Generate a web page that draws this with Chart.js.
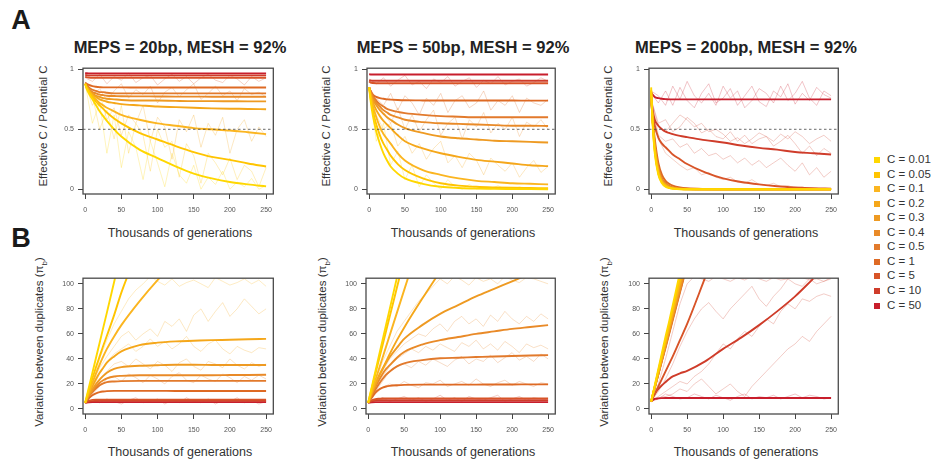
<!DOCTYPE html>
<html>
<head>
<meta charset="utf-8">
<script src="https://cdn.jsdelivr.net/npm/chart.js@4.4.1/dist/chart.umd.min.js"></script>
<style>
  body { margin: 0; background: #fff; font-family: "Liberation Sans", Arial, sans-serif; }
  #wrap { position: relative; width: 933px; height: 463px; overflow: hidden; background: #fff; }
  canvas { position: absolute; }
  .txt { position: absolute; white-space: nowrap; color: #222; transform: translate(-50%, -50%); }
  .ytitle { transform: translate(-50%, -50%) rotate(-90deg); font-size: 11.5px; color: #333; }
  .xtitle { font-size: 12.5px; color: #333; }
  .ptitle { font-size: 16.5px; font-weight: bold; color: #222; }
  .letter { font-size: 27px; font-weight: bold; color: #1a1a1a; }
  .leg { position: absolute; font-size: 11.5px; color: #333; white-space: nowrap; }
  .sq { position: absolute; width: 6px; height: 6px; }
</style>
</head>
<body>
<div id="wrap">
  <canvas id="a1" width="220" height="160" style="left:59px;top:60px"></canvas>
  <canvas id="a2" width="218" height="160" style="left:343px;top:60px"></canvas>
  <canvas id="a3" width="219" height="160" style="left:625px;top:60px"></canvas>
  <canvas id="b1" width="220" height="170" style="left:59px;top:270px"></canvas>
  <canvas id="b2" width="219" height="170" style="left:342px;top:270px"></canvas>
  <canvas id="b3" width="219" height="170" style="left:625px;top:270px"></canvas>
</div>
<script>
// x values (thousands of generations) for the mean curves and the replicate runs
var GEN = [0, 2, 5, 10, 15, 20, 25, 30, 40, 50, 75, 100, 125, 150, 175, 200, 225, 250];
var GEN_REP = [0, 10, 20, 30, 40, 50, 60, 70, 80, 90, 100, 110, 120, 130, 140, 150, 160, 170, 180, 190, 200, 210, 220, 230, 240, 250];
var X_TICKS = [0, 50, 100, 150, 200, 250];
var Y_TICKS_A = [0, 0.5, 1];
var Y_TICKS_B = [0, 20, 40, 60, 80, 100];

var C_LABELS = ['C = 0.01', 'C = 0.05', 'C = 0.1', 'C = 0.2', 'C = 0.3', 'C = 0.4', 'C = 0.5', 'C = 1', 'C = 5', 'C = 10', 'C = 50'];
var C_COLORS = ['#FFD700', '#FFC400', '#FBB520', '#F5A71A', '#EE9A22', '#E98A28', '#E27A2C', '#DE6A24', '#D85428', '#CF3C2A', '#C81E2C'];

var TITLES = ['MEPS = 20bp, MESH = 92%', 'MEPS = 50bp, MESH = 92%', 'MEPS = 200bp, MESH = 92%'];

// ---- A: effective C / potential C (mean curves, one row per C) ----
var effMeps20 = [
  [0.88, 0.84, 0.80, 0.75, 0.70, 0.65, 0.61, 0.57, 0.50, 0.44, 0.33, 0.26, 0.19, 0.13, 0.09, 0.06, 0.04, 0.024],
  [0.88, 0.85, 0.82, 0.77, 0.73, 0.70, 0.67, 0.64, 0.59, 0.55, 0.47, 0.415, 0.36, 0.31, 0.27, 0.245, 0.215, 0.19],
  [0.88, 0.85, 0.82, 0.78, 0.75, 0.72, 0.70, 0.68, 0.65, 0.62, 0.58, 0.55, 0.53, 0.51, 0.50, 0.49, 0.475, 0.46],
  [0.88, 0.85, 0.82, 0.79, 0.77, 0.75, 0.74, 0.73, 0.72, 0.71, 0.70, 0.69, 0.685, 0.68, 0.675, 0.672, 0.67, 0.667],
  [0.88, 0.86, 0.83, 0.80, 0.78, 0.77, 0.76, 0.755, 0.75, 0.745, 0.74, 0.74, 0.737, 0.735, 0.735, 0.734, 0.733, 0.733],
  [0.88, 0.86, 0.84, 0.81, 0.80, 0.79, 0.785, 0.78, 0.778, 0.776, 0.775, 0.774, 0.773, 0.773, 0.772, 0.772, 0.772, 0.772],
  [0.88, 0.87, 0.85, 0.83, 0.82, 0.81, 0.81, 0.805, 0.80, 0.80, 0.80, 0.80, 0.80, 0.80, 0.80, 0.80, 0.80, 0.80],
  [0.89, 0.88, 0.87, 0.86, 0.855, 0.852, 0.85, 0.85, 0.85, 0.85, 0.849, 0.849, 0.849, 0.849, 0.849, 0.849, 0.849, 0.849],
  [0.94, 0.935, 0.932, 0.93, 0.93, 0.93, 0.93, 0.93, 0.93, 0.93, 0.93, 0.93, 0.93, 0.93, 0.93, 0.93, 0.93, 0.93],
  [0.955, 0.952, 0.95, 0.95, 0.95, 0.95, 0.95, 0.95, 0.95, 0.95, 0.95, 0.95, 0.95, 0.95, 0.95, 0.95, 0.95, 0.95],
  [0.97, 0.968, 0.967, 0.967, 0.967, 0.967, 0.967, 0.967, 0.967, 0.967, 0.967, 0.967, 0.967, 0.967, 0.967, 0.967, 0.967, 0.967]
];
var effMeps50 = [
  [0.85, 0.74, 0.62, 0.48, 0.38, 0.30, 0.24, 0.19, 0.13, 0.09, 0.045, 0.02, 0.01, 0.005, 0.003, 0.002, 0.001, 0],
  [0.85, 0.76, 0.66, 0.54, 0.45, 0.38, 0.33, 0.28, 0.21, 0.16, 0.09, 0.05, 0.03, 0.02, 0.015, 0.012, 0.01, 0.008],
  [0.85, 0.78, 0.70, 0.60, 0.52, 0.46, 0.42, 0.38, 0.30, 0.24, 0.16, 0.12, 0.09, 0.07, 0.06, 0.05, 0.045, 0.04],
  [0.85, 0.79, 0.73, 0.66, 0.61, 0.57, 0.54, 0.51, 0.45, 0.40, 0.34, 0.30, 0.27, 0.245, 0.23, 0.215, 0.20, 0.193],
  [0.85, 0.80, 0.75, 0.70, 0.66, 0.63, 0.60, 0.58, 0.54, 0.51, 0.47, 0.44, 0.425, 0.415, 0.405, 0.40, 0.395, 0.39],
  [0.85, 0.81, 0.77, 0.72, 0.69, 0.66, 0.64, 0.62, 0.60, 0.58, 0.56, 0.55, 0.545, 0.54, 0.535, 0.53, 0.53, 0.528],
  [0.85, 0.82, 0.78, 0.74, 0.71, 0.69, 0.67, 0.66, 0.645, 0.635, 0.62, 0.61, 0.605, 0.60, 0.60, 0.60, 0.60, 0.60],
  [0.85, 0.82, 0.79, 0.77, 0.76, 0.755, 0.75, 0.748, 0.745, 0.743, 0.741, 0.74, 0.74, 0.74, 0.74, 0.74, 0.739, 0.739],
  [0.90, 0.89, 0.886, 0.885, 0.885, 0.885, 0.885, 0.885, 0.885, 0.885, 0.885, 0.884, 0.884, 0.884, 0.884, 0.884, 0.884, 0.884],
  [0.91, 0.907, 0.905, 0.905, 0.905, 0.905, 0.905, 0.905, 0.905, 0.905, 0.905, 0.905, 0.905, 0.905, 0.905, 0.905, 0.905, 0.905],
  [0.96, 0.958, 0.958, 0.958, 0.958, 0.958, 0.958, 0.958, 0.958, 0.958, 0.958, 0.958, 0.958, 0.958, 0.958, 0.958, 0.958, 0.958]
];
var effMeps200 = [
  [0.85, 0.55, 0.30, 0.12, 0.05, 0.02, 0.01, 0.005, 0, 0, 0, 0, 0, 0, 0, 0, 0, 0],
  [0.83, 0.56, 0.32, 0.13, 0.055, 0.025, 0.012, 0.006, 0.002, 0, 0, 0, 0, 0, 0, 0, 0, 0],
  [0.82, 0.57, 0.33, 0.14, 0.06, 0.03, 0.014, 0.007, 0.002, 0, 0, 0, 0, 0, 0, 0, 0, 0],
  [0.80, 0.58, 0.35, 0.15, 0.07, 0.035, 0.016, 0.008, 0.003, 0, 0, 0, 0, 0, 0, 0, 0, 0],
  [0.78, 0.58, 0.36, 0.16, 0.075, 0.04, 0.02, 0.01, 0.004, 0.001, 0, 0, 0, 0, 0, 0, 0, 0],
  [0.77, 0.58, 0.37, 0.17, 0.08, 0.045, 0.025, 0.012, 0.005, 0.002, 0, 0, 0, 0, 0, 0, 0, 0],
  [0.76, 0.58, 0.38, 0.18, 0.09, 0.05, 0.028, 0.015, 0.006, 0.002, 0, 0, 0, 0, 0, 0, 0, 0],
  [0.75, 0.60, 0.42, 0.22, 0.12, 0.07, 0.045, 0.03, 0.015, 0.008, 0.002, 0, 0, 0, 0, 0, 0, 0],
  [0.76, 0.64, 0.53, 0.43, 0.38, 0.35, 0.32, 0.29, 0.25, 0.21, 0.14, 0.09, 0.06, 0.04, 0.025, 0.015, 0.008, 0.005],
  [0.77, 0.66, 0.58, 0.53, 0.50, 0.48, 0.47, 0.46, 0.445, 0.435, 0.41, 0.39, 0.365, 0.345, 0.33, 0.31, 0.30, 0.29],
  [0.81, 0.79, 0.77, 0.76, 0.755, 0.752, 0.75, 0.75, 0.75, 0.75, 0.75, 0.75, 0.75, 0.75, 0.75, 0.75, 0.75, 0.75]
];

// ---- B: variation between duplicates (mean curves) ----
var divMeps20 = [
  [5, 9.8, 17, 29, 41, 53, 65, 77, 101.5, 126, null, null, null, null, null, null, null, null],
  [5, 9, 15, 24.5, 33.5, 42, 50.5, 58.5, 75, 93, 130, null, null, null, null, null, null, null],
  [5, 8, 13, 21, 28.5, 35.5, 42, 48, 58, 67, 86, 103, 118, null, null, null, null, null],
  [5, 8, 12, 18, 24, 29, 33, 37, 42, 46, 51, 53, 54, 54.5, 55, 55.3, 55.7, 56],
  [5, 7.5, 11, 15.5, 20, 23.5, 26.5, 29, 32, 33.5, 34.5, 35, 35.3, 35.3, 35.2, 35.1, 35.1, 35.2],
  [5, 7.5, 10.5, 14.5, 18, 21, 23, 24.5, 26, 26.5, 27, 27, 27, 27, 27, 27.1, 27.2, 27.3],
  [5, 7, 10, 13.5, 16.5, 19, 20.5, 21.5, 22, 22.3, 22.5, 22.5, 22.5, 22.5, 22.5, 22.5, 22.5, 22.5],
  [5, 6.5, 8.5, 11, 12.5, 13.5, 14, 14.3, 14.5, 14.5, 14.5, 14.5, 14.4, 14.4, 14.4, 14.4, 14.4, 14.4],
  [5, 5.8, 6.6, 7.3, 7.5, 7.5, 7.5, 7.5, 7.5, 7.5, 7.5, 7.5, 7.5, 7.5, 7.5, 7.5, 7.5, 7.5],
  [5, 5.5, 6, 6.3, 6.4, 6.5, 6.5, 6.5, 6.5, 6.5, 6.5, 6.5, 6.5, 6.5, 6.5, 6.5, 6.5, 6.5],
  [5, 5.2, 5.4, 5.5, 5.5, 5.5, 5.5, 5.5, 5.5, 5.5, 5.5, 5.5, 5.5, 5.5, 5.5, 5.5, 5.5, 5.5]
];
var divMeps50 = [
  [5, 10, 17.5, 30, 42.5, 55, 67.5, 80, 105, null, null, null, null, null, null, null, null, null],
  [5, 9.6, 16.5, 28, 39.5, 51, 62.5, 74, 97, 120, null, null, null, null, null, null, null, null],
  [5, 8.6, 14, 23, 32, 41, 50, 59, 77, 95, 140, null, null, null, null, null, null, null],
  [5, 8, 12.5, 19.5, 26, 32, 38, 44, 55, 65, 88, 110, null, null, null, null, null, null],
  [5, 8, 12.5, 20, 26.5, 32, 37, 41.5, 49, 56, 67, 76, 83, 90, 96, 102, 108, null],
  [5, 7.5, 11.5, 17.5, 23, 28, 32, 35, 41, 45.5, 51.5, 55, 57.5, 60, 62, 64, 65.5, 67],
  [5, 7, 10.5, 15.5, 20, 24, 27.5, 30, 34, 36.5, 39, 40.5, 41, 41.5, 42, 42.3, 42.7, 43],
  [5, 6.5, 9, 13, 15.5, 17, 18, 18.5, 19, 19.3, 19.5, 19.5, 19.5, 19.5, 19.6, 19.6, 19.7, 19.7],
  [5, 5.8, 6.8, 7.8, 8.2, 8.4, 8.5, 8.5, 8.5, 8.5, 8.5, 8.5, 8.5, 8.5, 8.5, 8.5, 8.5, 8.5],
  [5, 5.6, 6.2, 6.8, 7, 7, 7, 7, 7, 7, 7, 7, 7, 7, 7, 7, 7, 7],
  [5, 5.2, 5.4, 5.5, 5.5, 5.5, 5.5, 5.5, 5.5, 5.5, 5.5, 5.5, 5.5, 5.5, 5.5, 5.5, 5.5, 5.5]
];
var divMeps200 = [
  [6, 11, 19, 32, 45, 58, 70, 83, 109, null, null, null, null, null, null, null, null, null],
  [6, 11, 18, 30.5, 43, 55, 67.5, 80, 104, 129, null, null, null, null, null, null, null, null],
  [6, 10.8, 18, 30, 42, 54, 66, 78, 102, 126, null, null, null, null, null, null, null, null],
  [6, 10.7, 17.7, 29.3, 41, 52.7, 64.3, 76, 99.5, 123, null, null, null, null, null, null, null, null],
  [6, 10.5, 17.4, 28.8, 40, 51.6, 63, 74.4, 97, 120, null, null, null, null, null, null, null, null],
  [6, 10.4, 17, 28, 39, 50.5, 61.7, 73, 95, 117, null, null, null, null, null, null, null, null],
  [6, 10.4, 17, 28, 39, 50, 61, 72, 94, 116, null, null, null, null, null, null, null, null],
  [6, 10.3, 16.8, 27.6, 38.5, 49, 60, 71, 93, 115, null, null, null, null, null, null, null, null],
  [6, 8.5, 12, 18, 24, 30, 36, 42, 55, 68, 105, null, null, null, null, null, null, null],
  [6, 9, 12, 16, 19, 21.5, 24, 26, 28.5, 30.5, 38, 48, 57, 67, 78, 90, 104, null],
  [6, 7, 8, 8.5, 8.7, 8.8, 8.8, 8.8, 8.8, 8.8, 8.8, 8.8, 8.8, 8.8, 8.8, 8.8, 8.8, 8.8]
];

// ---- single replicate runs (faint lines) ----
var effMeps20Reps = [
  [0.88, 0.55, 0.72, 0.30, 0.62, 0.18, 0.48, 0.35, 0.08, 0.40, 0.22, 0.02, 0.30, 0.12, 0.05, 0.20, 0.00, 0.10, 0.04, 0.15, 0.00, 0.06, 0.02, 0.09, 0.00, 0.03],
  [0.88, 0.78, 0.50, 0.66, 0.42, 0.70, 0.30, 0.55, 0.45, 0.15, 0.50, 0.35, 0.40, 0.10, 0.38, 0.28, 0.05, 0.30, 0.22, 0.12, 0.26, 0.08, 0.20, 0.15, 0.02, 0.18],
  [0.88, 0.70, 0.80, 0.58, 0.68, 0.45, 0.62, 0.55, 0.70, 0.40, 0.60, 0.52, 0.25, 0.58, 0.48, 0.62, 0.35, 0.55, 0.45, 0.60, 0.30, 0.50, 0.58, 0.40, 0.52, 0.44],
  [0.85, 0.78, 0.84, 0.74, 0.82, 0.88, 0.76, 0.83, 0.79, 0.86, 0.72, 0.81, 0.85, 0.77, 0.83, 0.88, 0.75, 0.80, 0.86, 0.78, 0.82, 0.74, 0.84, 0.79, 0.81, 0.77],
  [0.93, 0.90, 0.96, 0.88, 0.94, 0.91, 0.97, 0.89, 0.93, 0.95, 0.87, 0.92, 0.96, 0.90, 0.94, 0.88, 0.93, 0.96, 0.91, 0.89, 0.95, 0.92, 0.87, 0.94, 0.90, 0.93]
];
var effMeps20RepC = [0, 1, 3, 6, 8];
var effMeps50Reps = [
  [0.85, 0.40, 0.55, 0.20, 0.32, 0.08, 0.20, 0.02, 0.12, 0.05, 0.00, 0.08, 0.02, 0.00, 0.04, 0.00, 0.01, 0.00, 0.03, 0.00, 0.00, 0.02, 0.00, 0.00, 0.01, 0.00],
  [0.85, 0.62, 0.50, 0.55, 0.36, 0.44, 0.30, 0.38, 0.25, 0.34, 0.40, 0.22, 0.28, 0.18, 0.30, 0.24, 0.12, 0.26, 0.20, 0.15, 0.22, 0.10, 0.18, 0.24, 0.14, 0.19],
  [0.85, 0.72, 0.64, 0.55, 0.68, 0.50, 0.62, 0.48, 0.58, 0.66, 0.45, 0.55, 0.60, 0.42, 0.58, 0.52, 0.64, 0.47, 0.55, 0.50, 0.60, 0.44, 0.56, 0.52, 0.58, 0.50],
  [0.85, 0.76, 0.70, 0.80, 0.66, 0.78, 0.72, 0.62, 0.76, 0.70, 0.80, 0.64, 0.74, 0.78, 0.68, 0.72, 0.82, 0.66, 0.74, 0.70, 0.78, 0.64, 0.76, 0.72, 0.70, 0.75],
  [0.92, 0.88, 0.93, 0.86, 0.91, 0.95, 0.87, 0.90, 0.84, 0.92, 0.89, 0.94, 0.86, 0.90, 0.93, 0.85, 0.91, 0.88, 0.94, 0.87, 0.90, 0.92, 0.86, 0.89, 0.93, 0.90]
];
var effMeps50RepC = [0, 3, 5, 7, 9];
var effMeps200Reps = [
  [0.80, 0.72, 0.82, 0.70, 0.85, 0.74, 0.68, 0.80, 0.88, 0.72, 0.76, 0.84, 0.70, 0.78, 0.86, 0.73, 0.69, 0.82, 0.77, 0.88, 0.71, 0.80, 0.74, 0.85, 0.79, 0.76],
  [0.82, 0.78, 0.70, 0.86, 0.75, 0.90, 0.78, 0.72, 0.80, 0.70, 0.86, 0.76, 0.82, 0.68, 0.74, 0.84, 0.80, 0.72, 0.86, 0.74, 0.80, 0.90, 0.76, 0.70, 0.82, 0.78],
  [0.75, 0.55, 0.58, 0.48, 0.52, 0.60, 0.55, 0.47, 0.50, 0.44, 0.42, 0.48, 0.40, 0.45, 0.38, 0.42, 0.44, 0.36, 0.40, 0.45, 0.38, 0.30, 0.36, 0.28, 0.34, 0.30],
  [0.75, 0.45, 0.40, 0.42, 0.35, 0.38, 0.30, 0.34, 0.28, 0.30, 0.25, 0.28, 0.22, 0.26, 0.20, 0.24, 0.18, 0.22, 0.26, 0.20, 0.15, 0.22, 0.12, 0.18, 0.10, 0.15],
  [0.75, 0.52, 0.48, 0.55, 0.62, 0.58, 0.52, 0.55, 0.48, 0.50, 0.46, 0.40, 0.43, 0.38, 0.42, 0.47, 0.44, 0.40, 0.46, 0.42, 0.48, 0.44, 0.38, 0.42, 0.45, 0.40],
  [0.70, 0.42, 0.30, 0.25, 0.20, 0.16, 0.18, 0.12, 0.14, 0.10, 0.08, 0.10, 0.06, 0.05, 0.08, 0.04, 0.03, 0.05, 0.02, 0.03, 0.01, 0.02, 0.00, 0.01, 0.00, 0.00]
];
var effMeps200RepC = [10, 10, 9, 9, 9, 8];

var divMeps20Reps = [
  [5, 20, 40, 55, 68, 78, 88, 95, 100, 106, 102, 99, 104, 98, 101, 103, 100, 97, 105, 102, 99, 101, 104, 100, 103, 98],
  [5, 20, 33, 42, 50, 58, 62, 55, 60, 64, 58, 70, 66, 72, 62, 75, 80, 70, 78, 85, 74, 80, 88, 82, 76, 80],
  [5, 16, 28, 38, 44, 48, 52, 46, 50, 56, 50, 54, 48, 52, 58, 50, 46, 52, 55, 48, 44, 50, 47, 45, 49, 48],
  [5, 14, 24, 30, 36, 38, 34, 40, 36, 32, 38, 35, 30, 37, 40, 34, 31, 38, 36, 33, 40, 35, 32, 37, 34, 36],
  [5, 12, 18, 24, 26, 22, 28, 25, 21, 27, 24, 20, 26, 29, 23, 21, 27, 24, 22, 28, 25, 21, 26, 23, 27, 24],
  [5, 7, 5, 8, 6, 4, 7, 9, 5, 6, 8, 4, 7, 5, 9, 6, 5, 8, 4, 7, 6, 9, 5, 7, 4, 6]
];
var divMeps20RepC = [2, 3, 3, 4, 6, 9];
var divMeps50Reps = [
  [5, 20, 38, 50, 62, 70, 78, 86, 92, 98, 104, 100, 106, 103, 99, 105, 102, 104, 100, 106, 103, 101, 105, 104, 102, 100],
  [5, 18, 30, 40, 46, 52, 56, 60, 58, 64, 68, 62, 70, 74, 68, 72, 66, 75, 70, 78, 72, 68, 74, 70, 76, 72],
  [5, 15, 26, 34, 40, 44, 48, 45, 50, 47, 52, 49, 46, 53, 50, 55, 48, 52, 47, 54, 50, 45, 52, 49, 51, 48],
  [5, 14, 22, 30, 34, 36, 33, 38, 35, 40, 37, 34, 39, 42, 36, 40, 38, 43, 37, 41, 45, 39, 42, 38, 44, 40],
  [5, 12, 17, 20, 18, 22, 19, 17, 21, 20, 23, 18, 20, 22, 19, 24, 20, 18, 21, 23, 19, 22, 20, 18, 21, 20],
  [5, 7, 9, 6, 8, 10, 7, 9, 6, 8, 11, 7, 9, 6, 10, 8, 7, 9, 11, 6, 8, 10, 7, 9, 8, 7]
];
var divMeps50RepC = [4, 5, 5, 6, 7, 9];
var divMeps200Reps = [
  [6, 14, 24, 36, 50, 62, 72, 80, 85, 78, 72, 80, 86, 92, 98, 88, 82, 90, 96, 104, 100, 98, 104, 100, 102, 104],
  [6, 10, 14, 18, 22, 20, 26, 30, 36, 44, 52, 48, 56, 62, 58, 66, 72, 68, 78, 84, 80, 88, 86, 90, 92, 90],
  [6, 9, 10, 12, 16, 14, 20, 24, 18, 12, 16, 20, 14, 10, 18, 24, 30, 36, 42, 48, 52, 58, 54, 62, 68, 74],
  [6, 8, 12, 10, 8, 9, 12, 10, 8, 11, 9, 7, 10, 12, 8, 10, 9, 11, 8, 10, 12, 9, 11, 10, 8, 9],
  [6, 20, 40, 62, 84, 100, 106, 104, 102, 106, 104, 102, 105, 103, 106, 104, 102, 105, 103, 104, 106, 105, 103, 104, 102, 105]
];
var divMeps200RepC = [9, 9, 9, 10, 9];

function hexAlpha(hex, a) {
  var r = parseInt(hex.substr(1, 2), 16), g = parseInt(hex.substr(3, 2), 16), b = parseInt(hex.substr(5, 2), 16);
  return 'rgba(' + r + ',' + g + ',' + b + ',' + a + ')';
}

function toPoints(xs, ys) {
  var pts = [];
  for (var i = 0; i < xs.length; i++) pts.push({ x: xs[i], y: ys[i] });
  return pts;
}

// box around the plot + optional dashed line at 0.5
var framePlugin = {
  id: 'frame',
  afterDatasetsDraw: function (chart, args, opts) {
    var c = chart.ctx, a = chart.chartArea;
    c.save();
    if (opts.dashAt !== undefined) {
      var y = chart.scales.y.getPixelForValue(opts.dashAt);
      c.strokeStyle = '#444';
      c.lineWidth = 0.8;
      c.setLineDash([2.5, 2.5]);
      c.beginPath(); c.moveTo(a.left, y); c.lineTo(a.right, y); c.stroke();
      c.setLineDash([]);
    }
    c.strokeStyle = '#4a4a4a';
    c.lineWidth = 1.3;
    c.strokeRect(a.left, a.top, a.right - a.left, a.bottom - a.top);
    c.restore();
  }
};

function makePanel(id, means, reps, repColors, yMin, yMax, yTicks, dashAt) {
  var datasets = [];
  for (var i = 0; i < means.length; i++) {
    datasets.push({
      label: C_LABELS[i],
      data: toPoints(GEN, means[i]),
      borderColor: C_COLORS[i],
      borderWidth: 1.9,
      pointRadius: 0,
      cubicInterpolationMode: 'monotone',
      order: 1
    });
  }
  for (var j = 0; j < reps.length; j++) {
    datasets.push({
      data: toPoints(GEN_REP, reps[j]),
      borderColor: hexAlpha(C_COLORS[repColors[j]], 0.38),
      borderWidth: 0.7,
      pointRadius: 0,
      tension: 0,
      order: 2
    });
  }
  var tickFont = { family: 'Liberation Sans, Arial, sans-serif', size: 7 };
  new Chart(document.getElementById(id), {
    type: 'line',
    data: { datasets: datasets },
    plugins: [framePlugin],
    options: {
      responsive: false,
      animation: false,
      events: [],
      layout: { padding: { top: 2, right: 2, left: 0, bottom: 0 } },
      plugins: { legend: { display: false }, tooltip: { enabled: false }, frame: { dashAt: dashAt } },
      scales: {
        x: {
          type: 'linear', min: -3, max: 260,
          afterBuildTicks: function (s) { s.ticks = X_TICKS.map(function (v) { return { value: v }; }); },
          afterFit: function (s) { s.height = 26; },
          border: { display: false },
          grid: { drawOnChartArea: false, drawTicks: true, tickLength: 5, color: '#444', lineWidth: 1 },
          ticks: { font: tickFont, color: '#555', padding: 7, maxRotation: 0, autoSkip: false,
                   callback: function (v) { return String(v); } }
        },
        y: {
          min: yMin, max: yMax,
          afterBuildTicks: function (s) { s.ticks = yTicks.map(function (v) { return { value: v }; }); },
          afterFit: function (s) { s.width = 24; },
          border: { display: false },
          grid: { drawOnChartArea: false, drawTicks: true, tickLength: 5, color: '#444', lineWidth: 1 },
          ticks: { font: tickFont, color: '#555', padding: 4, autoSkip: false,
                   callback: function (v) { return String(v); } }
        }
      }
    }
  });
}

makePanel('a1', effMeps20, effMeps20Reps, effMeps20RepC, -0.04, 1.01, Y_TICKS_A, 0.5);
makePanel('a2', effMeps50, effMeps50Reps, effMeps50RepC, -0.04, 1.01, Y_TICKS_A, 0.5);
makePanel('a3', effMeps200, effMeps200Reps, effMeps200RepC, -0.04, 1.01, Y_TICKS_A, 0.5);
makePanel('b1', divMeps20, divMeps20Reps, divMeps20RepC, -4, 104.5, Y_TICKS_B);
makePanel('b2', divMeps50, divMeps50Reps, divMeps50RepC, -4, 104.5, Y_TICKS_B);
makePanel('b3', divMeps200, divMeps200Reps, divMeps200RepC, -4, 104.5, Y_TICKS_B);

// text: letters, titles, axis titles, legend
var wrap = document.getElementById('wrap');
function addText(html, x, y, cls) {
  var d = document.createElement('div');
  d.className = 'txt ' + cls;
  d.innerHTML = html;
  d.style.left = x + 'px';
  d.style.top = y + 'px';
  wrap.appendChild(d);
}

addText('A', 21, 20, 'letter');
addText('B', 21, 238, 'letter');

var colCenters = [180, 463, 746];
var yTitleX = [43, 326, 608];
for (var k = 0; k < 3; k++) {
  addText(TITLES[k], colCenters[k], 47, 'ptitle');
  addText('Effective C / Potential C', yTitleX[k], 126, 'ytitle');
  addText('Thousands of generations', colCenters[k], 233, 'xtitle');
  addText('Variation between duplicates (&pi;<sub style="font-size:8px">b</sub>)', yTitleX[k] - 2, 342, 'ytitle');
  addText('Thousands of generations', colCenters[k], 452, 'xtitle');
}

for (var m = 0; m < C_LABELS.length; m++) {
  var yy = 160 + m * 14.55;
  var sq = document.createElement('div');
  sq.className = 'sq';
  sq.style.left = '874px';
  sq.style.top = (yy - 3) + 'px';
  sq.style.background = C_COLORS[m];
  wrap.appendChild(sq);
  var lab = document.createElement('div');
  lab.className = 'leg';
  lab.textContent = C_LABELS[m];
  lab.style.left = '887px';
  lab.style.top = (yy - 7) + 'px';
  wrap.appendChild(lab);
}
</script>
</body>
</html>
